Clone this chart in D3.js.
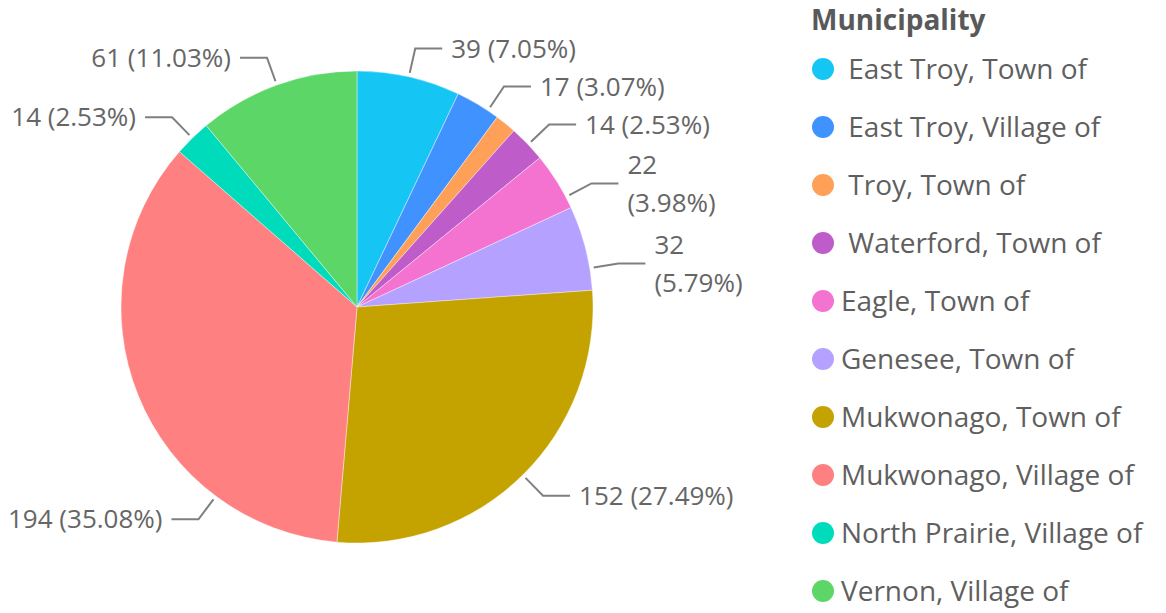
<!DOCTYPE html>
<html>
<head>
<meta charset="utf-8">
<script src="https://cdn.jsdelivr.net/npm/d3@7"></script>
<style>
  body { margin: 0; background: #fff; }
  text { font-family: "Segoe UI", "Open Sans", sans-serif; }
</style>
</head>
<body>
<div id="wrapper"></div>
<script>
// data
const categories = [
  " East Troy, Town of",
  " East Troy, Village of",
  " Troy, Town of",
  " Waterford, Town of",
  "Eagle, Town of",
  "Genesee, Town of",
  "Mukwonago, Town of",
  "Mukwonago, Village of",
  "North Prairie, Village of",
  "Vernon, Village of",
]
const counts = [39, 17, 8, 14, 22, 32, 152, 194, 14, 61]
const colors = [
  "#15C6F4", "#4092FF", "#FFA058", "#BE5DC9", "#F472D0",
  "#B5A1FF", "#C4A200", "#FF8080", "#00DBBC", "#5BD667",
]
const legendTitle = "Municipality"

async function drawPie() {
  const data = categories.map((c, i) => ({ name: c, value: counts[i] }))
  const total = d3.sum(counts)

  let dimensions = {
    width: 1166,
    height: 613,
    cx: 357,
    cy: 307,
    radius: 236,
  }

  const wrapper = d3.select("#wrapper")
    .append("svg")
      .attr("width", dimensions.width)
      .attr("height", dimensions.height)

  const color = d3.scaleOrdinal()
    .domain(categories)
    .range(colors)

  const pie = d3.pie()
    .sort(null)
    .value(d => d.value)

  const arcs = pie(data)

  const arcGenerator = d3.arc()
    .innerRadius(0)
    .outerRadius(dimensions.radius)

  const bounds = wrapper.append("g")
    .attr("transform", `translate(${dimensions.cx},${dimensions.cy})`)

  bounds.selectAll("path")
    .data(arcs)
    .join("path")
      .attr("d", arcGenerator)
      .attr("fill", d => color(d.data.name))
      .attr("stroke", "#fff")
      .attr("stroke-width", 0.4)

  // labels
  const fmtPct = d3.format(".2%")
  const r0 = dimensions.radius + 4
  const r1 = dimensions.radius + 29
  const elbow = 27
  const gap = 9
  const fontSize = 26
  const lineH = 38
  const maxRight = 737
  const minLeft = 8

  const labelLayer = wrapper.append("g")
  const measure = labelLayer.append("text").style("font-size", fontSize + "px")
  const textW = s => { measure.text(s); return measure.node().getComputedTextLength() }

  let labels = arcs
    .filter(d => d.data.value / total >= 0.02)
    .map(d => {
      const mid = (d.startAngle + d.endAngle) / 2
      const right = Math.sin(mid) >= 0
      const v = String(d.data.value)
      const p = `(${fmtPct(d.data.value / total)})`
      return { d, mid, right, v, p, full: `${v} ${p}` }
    })

  labels.forEach(l => {
    const w = textW(l.full)
    let theta = l.mid
    if (l.right) {
      const x = dimensions.cx + r1 * Math.sin(theta) + elbow + gap
      l.wrap = x + w > maxRight
      l.w = l.wrap ? Math.max(textW(l.v), textW(l.p)) : w
    } else {
      l.wrap = false
      l.w = w
      const need = minLeft + w + gap + elbow
      const x = dimensions.cx + r1 * Math.sin(theta)
      if (x - (elbow + gap + w) < minLeft) {
        // rotate toward the bottom until the label fits
        theta = Math.PI + Math.asin((dimensions.cx - need) / r1)
      }
    }
    l.theta = theta
    l.h = l.wrap ? lineH * 2 + 4 : lineH
    l.y = dimensions.cy - r1 * Math.cos(theta)
  })
  measure.remove()

  // push labels apart on the right side, top to bottom
  const rightLabels = labels.filter(l => l.right).sort((a, b) => a.y - b.y)
  for (let i = 1; i < rightLabels.length; i++) {
    const prev = rightLabels[i - 1], cur = rightLabels[i]
    const minY = prev.y + prev.h / 2 + cur.h / 2
    if (cur.y < minY) {
      cur.y = minY
      const c = Math.max(-1, Math.min(1, (dimensions.cy - cur.y) / r1))
      cur.theta = Math.acos(c)
    }
  }

  labels.forEach(l => {
    const s = Math.sin(l.theta), c = Math.cos(l.theta)
    const x0 = dimensions.cx + r0 * s, y0 = dimensions.cy - r0 * c
    const x1 = dimensions.cx + r1 * s, y1 = dimensions.cy - r1 * c
    const dir = l.right ? 1 : -1
    const x2 = x1 + dir * elbow
    labelLayer.append("polyline")
      .attr("points", `${x0},${y0} ${x1},${y1} ${x2},${y1}`)
      .attr("fill", "none")
      .attr("stroke", "#7f7f7f")
      .attr("stroke-width", 2)
    const t = labelLayer.append("text")
      .attr("x", x2 + dir * gap)
      .attr("y", y1)
      .attr("text-anchor", l.right ? "start" : "end")
      .attr("fill", "#666666")
      .style("font-size", fontSize + "px")
    if (l.wrap) {
      t.append("tspan").attr("x", x2 + dir * gap).attr("dy", -lineH / 2 + fontSize * 0.35).text(l.v)
      t.append("tspan").attr("x", x2 + dir * gap).attr("dy", lineH).text(l.p)
    } else {
      t.attr("dy", "0.35em").text(l.full)
    }
  })

  // legend
  const legend = wrapper.append("g")
  legend.append("text")
    .attr("x", 811)
    .attr("y", 30)
    .attr("fill", "#595959")
    .style("font-size", "28px")
    .style("font-weight", "bold")
    .text(legendTitle)

  const rowY = d3.scalePoint()
    .domain(categories)
    .range([69, 591])

  const rows = legend.selectAll(".row")
    .data(categories)
    .join("g")
      .attr("transform", d => `translate(823,${rowY(d)})`)

  rows.append("circle")
    .attr("r", 11)
    .attr("fill", d => color(d))

  rows.append("text")
    .attr("x", 18)
    .attr("dy", "0.35em")
    .attr("fill", "#5f5f5f")
    .style("font-size", "28px")
    .style("white-space", "pre")
    .text(d => d)
}

drawPie()
</script>
</body>
</html>
